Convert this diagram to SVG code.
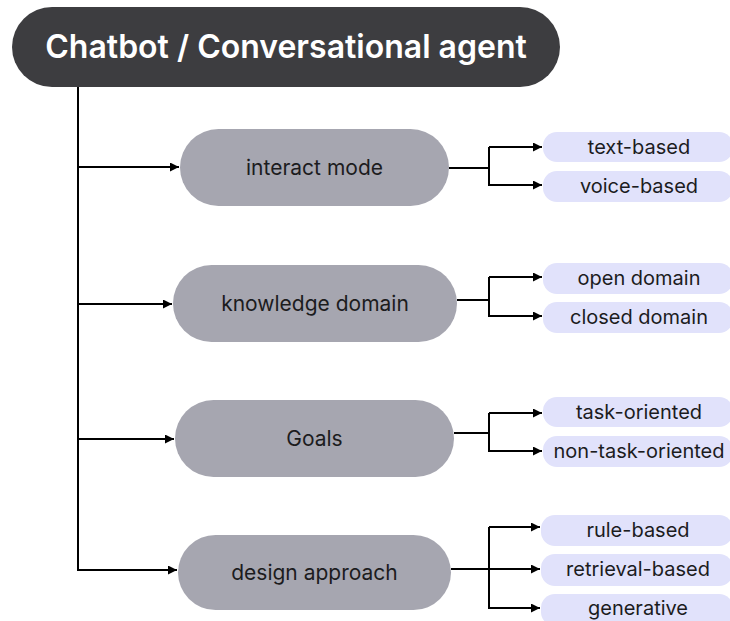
<svg xmlns="http://www.w3.org/2000/svg" width="730" height="621" viewBox="0 0 730 621">
  <style>
    .root rect { fill: #3d3d40; }
    .root text { fill: #ffffff; font-family: Inter, "Liberation Sans", sans-serif; font-size: 32px; font-weight: 600; text-anchor: middle; }
    .cat rect { fill: #a6a6b0; }
    .cat text { fill: #1c1c1e; font-family: Inter, "Liberation Sans", sans-serif; font-size: 21px; text-anchor: middle; }
    .leaf rect { fill: #e1e2fb; }
    .leaf text { fill: #1c1c1e; font-family: Inter, "Liberation Sans", sans-serif; font-size: 20px; text-anchor: middle; }
    .links path { fill: none; stroke: #000000; stroke-width: 2; }
    .links path.arrow { marker-end: url(#head); }
  </style>
  <defs>
    <marker id="head" viewBox="0 0 10 10" refX="10" refY="5" markerWidth="4.5" markerHeight="4.5" orient="auto" markerUnits="strokeWidth">
      <path d="M0,0 L10,5 L0,10 Z" fill="#000000"/>
    </marker>
  </defs>

  <rect width="730" height="621" fill="#ffffff"/>

  <!-- connectors -->
  <g id="connectors" class="links">
    <path d="M78,86 V571"/>
    <path class="arrow" d="M77,167 H179"/>
    <path class="arrow" d="M77,304 H172"/>
    <path class="arrow" d="M77,439 H174"/>
    <path class="arrow" d="M77,570 H177"/>

    <path d="M449,168 H489"/>
    <path class="arrow" d="M489,147 H542"/>
    <path class="arrow" d="M489,147 V185 H542"/>

    <path d="M457,300 H489"/>
    <path class="arrow" d="M489,277 H542"/>
    <path class="arrow" d="M489,277 V316 H542"/>

    <path d="M454,433 H489"/>
    <path class="arrow" d="M489,413 H542"/>
    <path class="arrow" d="M489,413 V451 H542"/>

    <path d="M451,569 H489"/>
    <path class="arrow" d="M489,527 H540"/>
    <path class="arrow" d="M489,569 H540"/>
    <path class="arrow" d="M489,527 V608 H540"/>
  </g>

  <!-- root -->
  <g id="node-root" class="root">
    <rect x="12" y="7" width="548" height="80" rx="40"/>
    <text x="286" y="58">Chatbot / Conversational agent</text>
  </g>

  <!-- categories -->
  <g id="node-interact-mode" class="cat">
    <rect x="180" y="129" width="269" height="77" rx="38.5"/>
    <text x="314.5" y="174.5">interact mode</text>
  </g>
  <g id="node-knowledge-domain" class="cat">
    <rect x="173" y="265" width="284" height="77" rx="38.5"/>
    <text x="315" y="310.5">knowledge domain</text>
  </g>
  <g id="node-goals" class="cat">
    <rect x="175" y="400" width="279" height="77" rx="38.5"/>
    <text x="314.5" y="445.5">Goals</text>
  </g>
  <g id="node-design-approach" class="cat">
    <rect x="178" y="535" width="273" height="75" rx="37.5"/>
    <text x="314.5" y="580">design approach</text>
  </g>

  <!-- leaves -->
  <g id="node-text-based" class="leaf">
    <rect x="543" y="132" width="190" height="30" rx="14"/>
    <text x="639" y="154">text-based</text>
  </g>
  <g id="node-voice-based" class="leaf">
    <rect x="543" y="171" width="190" height="31" rx="14"/>
    <text x="639" y="193">voice-based</text>
  </g>
  <g id="node-open-domain" class="leaf">
    <rect x="543" y="263" width="190" height="31" rx="14"/>
    <text x="639" y="285">open domain</text>
  </g>
  <g id="node-closed-domain" class="leaf">
    <rect x="543" y="302" width="190" height="31" rx="14"/>
    <text x="639" y="324">closed domain</text>
  </g>
  <g id="node-task-oriented" class="leaf">
    <rect x="543" y="397" width="190" height="30" rx="14"/>
    <text x="639" y="419">task-oriented</text>
  </g>
  <g id="node-non-task-oriented" class="leaf">
    <rect x="543" y="436" width="190" height="31" rx="14"/>
    <text x="639" y="458">non-task-oriented</text>
  </g>
  <g id="node-rule-based" class="leaf">
    <rect x="541" y="515" width="192" height="31" rx="14"/>
    <text x="638" y="537">rule-based</text>
  </g>
  <g id="node-retrieval-based" class="leaf">
    <rect x="541" y="554" width="192" height="32" rx="14"/>
    <text x="638" y="576">retrieval-based</text>
  </g>
  <g id="node-generative" class="leaf">
    <rect x="541" y="594" width="192" height="32" rx="14"/>
    <text x="638" y="615">generative</text>
  </g>
</svg>
